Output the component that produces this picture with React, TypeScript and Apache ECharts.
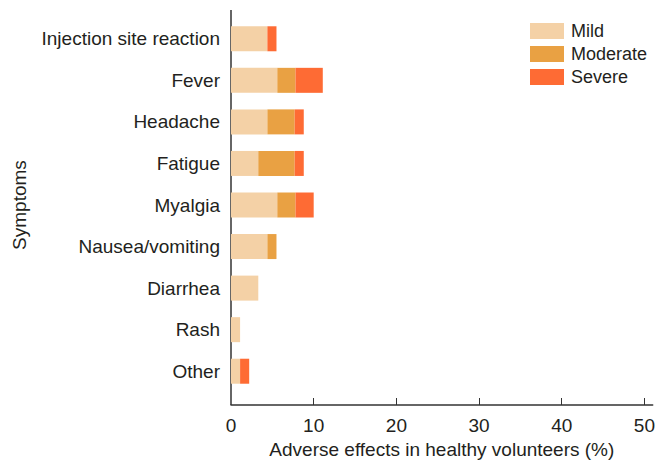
import React, { useEffect, useRef } from "react";
import * as echarts from "echarts";

const categories = [
  "Injection site reaction",
  "Fever",
  "Headache",
  "Fatigue",
  "Myalgia",
  "Nausea/vomiting",
  "Diarrhea",
  "Rash",
  "Other",
];
const mild = [4.4, 5.6, 4.4, 3.3, 5.6, 4.4, 3.3, 1.1, 1.1];
const moderate = [0, 2.2, 3.3, 4.4, 2.2, 1.1, 0, 0, 0];
const severe = [1.1, 3.3, 1.1, 1.1, 2.2, 0, 0, 0, 1.1];
const xTicks = [0, 10, 20, 30, 40, 50];

const FONT = "'Liberation Sans', Arial, Helvetica, sans-serif";
const TEXT = "#231f20";

export default function App() {
  const ref = useRef<HTMLDivElement>(null);
  useEffect(() => {
    if (!ref.current) return;
    const chart = echarts.init(ref.current, undefined, { renderer: "svg" });
    const mk = (name: string, data: number[], color: string) => ({
      name,
      type: "bar",
      stack: "total",
      data,
      barWidth: 25,
      itemStyle: { color },
      emphasis: { disabled: true },
    });
    chart.setOption({
      animation: false,
      textStyle: { fontFamily: FONT, color: TEXT },
      legend: {
        orient: "vertical",
        left: 525,
        top: 17,
        itemWidth: 34,
        itemHeight: 16,
        itemGap: 5,
        icon: "rect",
        textStyle: { fontSize: 18, color: TEXT, fontFamily: FONT, padding: [0, 0, 0, 2] },
        data: ["Mild", "Moderate", "Severe"],
      },
      grid: { left: 231, right: 12.3, top: 18, bottom: 77, containLabel: false },
      xAxis: {
        type: "value",
        min: 0,
        max: 51,
        offset: 13,
        splitLine: { show: false },
        axisLine: { show: true, lineStyle: { color: "#333", width: 1.5 } },
        axisTick: {
          show: true,
          inside: true,
          length: 7,
          customValues: xTicks.slice(1),
          lineStyle: { color: "#333", width: 1 },
        },
        axisLabel: {
          customValues: xTicks,
          fontSize: 19,
          color: TEXT,
          fontFamily: FONT,
          margin: 11,
        },
        name: "Adverse effects in healthy volunteers (%)",
        nameLocation: "middle",
        nameGap: 32,
        nameTextStyle: { fontSize: 19, color: TEXT, fontFamily: FONT },
      },
      yAxis: {
        type: "category",
        data: categories,
        inverse: true,
        axisLine: { show: false },
        axisTick: { show: false },
        axisLabel: { fontSize: 19, color: TEXT, fontFamily: FONT, margin: 11 },
        name: "Symptoms",
        nameLocation: "middle",
        nameRotate: 90,
        nameGap: 202,
        nameTextStyle: { fontSize: 19, color: TEXT, fontFamily: FONT },
      },
      graphic: [
        {
          type: "line",
          shape: { x1: 231, y1: 10, x2: 231, y2: 405 },
          style: { stroke: "#333", lineWidth: 1.5 },
          silent: true,
        },
      ],
      series: [
        mk("Mild", mild, "#F4D1A6"),
        mk("Moderate", moderate, "#E9A143"),
        mk("Severe", severe, "#FE6B34"),
      ],
    });
    return () => chart.dispose();
  }, []);
  return (
    <div
      ref={ref}
      style={{ position: "fixed", left: 0, top: 0, width: 665, height: 469, background: "#fff" }}
    />
  );
}
